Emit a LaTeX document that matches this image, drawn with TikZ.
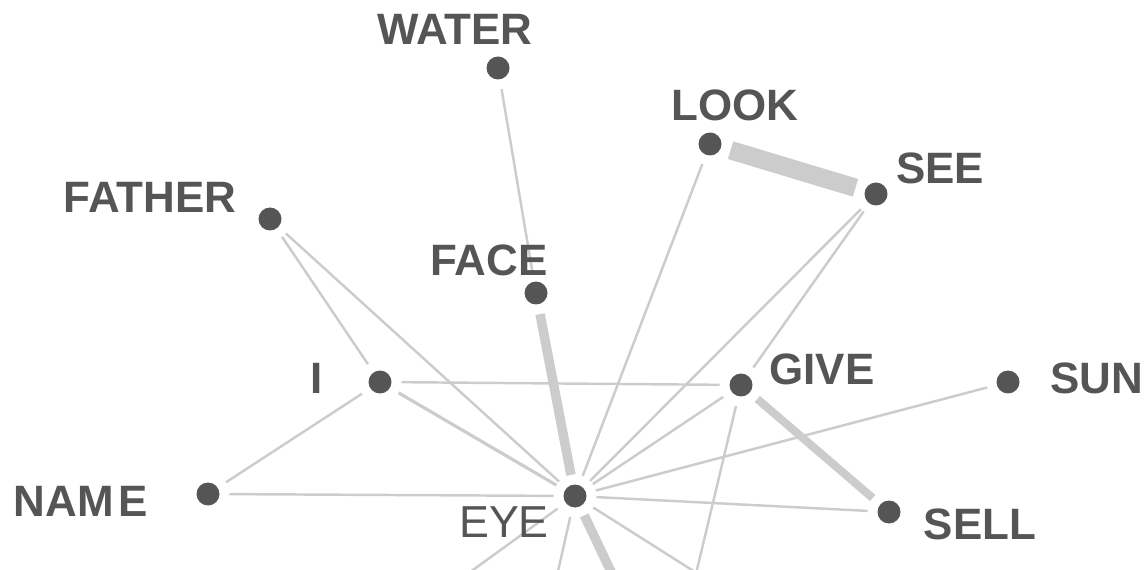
\documentclass[tikz,border=0pt]{standalone}
\usepackage{fontspec}
\setmainfont{Liberation Sans}
\usepackage{tikz}
\usetikzlibrary{positioning}
\usepackage{xcolor}
\definecolor{dotgray}{HTML}{555555}
\definecolor{edgegray}{HTML}{CCCCCC}

\begin{document}
\begin{tikzpicture}[
      x=0.02cm, y=-0.02cm,
      dot/.style={circle, fill=dotgray, inner sep=0pt, minimum size=0.46cm, outer sep=0.2cm},
      word/.style={font=\fontsize{25}{25}\selectfont\bfseries, text=dotgray, inner sep=0pt},
      hub/.style={font=\fontsize{25.5}{25}\selectfont, text=dotgray, inner sep=0pt},
      link/.style={draw=edgegray, line width=1.4pt},
      midlink/.style={draw=edgegray, line width=1.8pt},
      heavy/.style={draw=edgegray, line width=4.6pt},
      heaviest/.style={draw=edgegray, line width=10.5pt}
    ]
    \useasboundingbox (0,0) rectangle (1148,570);
    \clip (0,0) rectangle (1148,570);

    % Nodes
    \node[dot] (water) at (498,68) {};
    \node[dot] (look) at (710,144) {};
    \node[dot] (see) at (876,194) {};
    \node[dot] (father) at (270,219) {};
    \node[dot] (face) at (536,293) {};
    \node[dot] (i) at (380,382) {};
    \node[dot] (give) at (741,385) {};
    \node[dot] (sun) at (1008,382) {};
    \node[dot] (name) at (208,494) {};
    \node[dot] (eye) at (575,496) {};
    \node[dot] (sell) at (889,512) {};

    % Neighbours below the frame
    \coordinate (low1) at (404,620);
    \coordinate (low2) at (547,620);
    \coordinate (low3) at (634,620);
    \coordinate (low4) at (771,620);
    \coordinate (low5) at (685,620);

    % Edges
    \draw[link] (water) -- (face);
    \draw[link] (look) -- (eye);
    \draw[link] (see) -- (eye);
    \draw[link] (see) -- (give);
    \draw[link] (father) -- (i);
    \draw[link] (father) -- (eye);
    \draw[link] (i) -- (give);
    \draw[link] (i) -- (name);
    \draw[midlink] (i) -- (eye);
    \draw[link] (name) -- (eye);
    \draw[link] (give) -- (eye);
    \draw[link] (sun) -- (eye);
    \draw[link] (sell) -- (eye);
    \draw[link] (eye) -- (low1);
    \draw[link] (eye) -- (low2);
    \draw[link] (eye) -- (low4);
    \draw[link] (give) -- (low5);
    \draw[heavy, line width=5.4pt] (face) -- (eye);
    \draw[heavy] (give) -- (sell);
    \draw[heavy, line width=5.4pt] (eye) -- (low3);
    \draw[heaviest] (look) -- (see);

    % Labels
    \node[word] (waterlbl) at (455,29) {WATER};
    \node[word] (looklbl) at (735,105) {LOOK};
    \node[word] (seelbl) at (940,168) {SEE};
    \node[word] (fatherlbl) at (150,197) {FATHER};
    \node[word] (facelbl) at (489,260) {FACE};
    \node[word] (ilbl) at (317,378) {I};
    \node[word] (givelbl) at (822,369) {GIVE};
    \node[word] (sunlbl) at (1097,378) {SUN};
    \node[word] (namelbl) at (81,501) {NAM\kern3pt E};
    \node[hub] (eyelbl) at (504,522) {EYE};
    \node[word] (selllbl) at (980,524) {SELL};

    \end{tikzpicture}
\end{document}
